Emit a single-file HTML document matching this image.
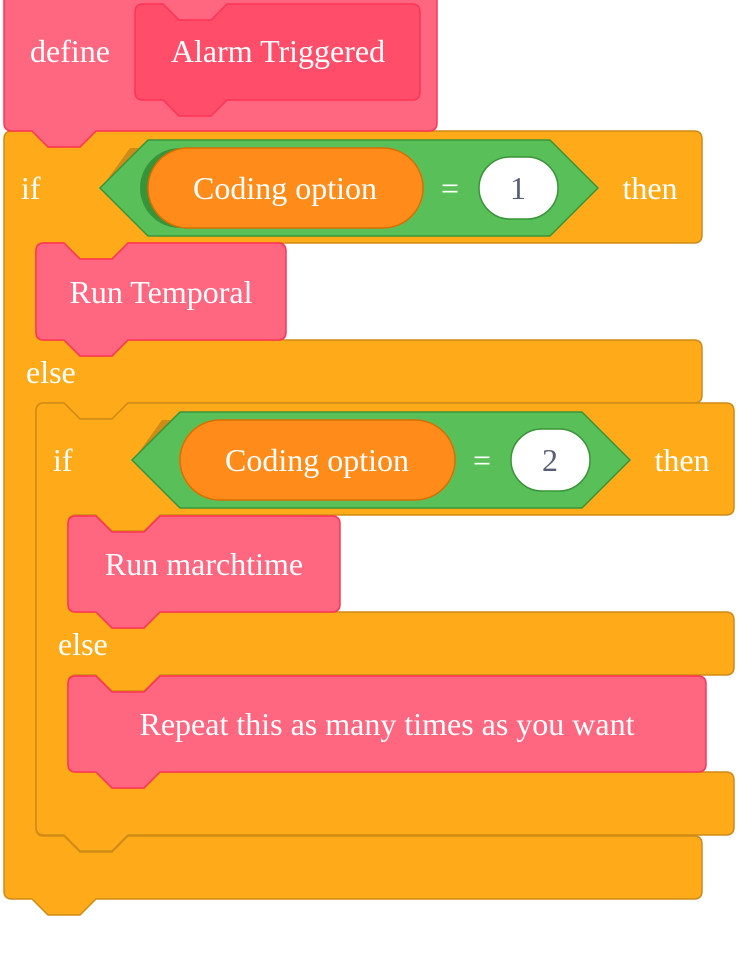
<!DOCTYPE html>
<html><head><meta charset="utf-8"><style>
html,body{margin:0;padding:0;background:#fff;}
svg{display:block}
text{font-family:"Liberation Serif",serif;font-size:32px;fill:#fff;}
</style></head><body>
<svg width="738" height="960" viewBox="0 0 738 960" xmlns="http://www.w3.org/2000/svg">
<path fill="#FFAB19" stroke="#CF8B17" stroke-width="1.5" d="M4,139 Q4,131 12,131 L32,131 L48,147 L80,147 L96,131 L694,131 Q702,131 702,139 L702,235 Q702,243 694,243 L128,243 L112,259 L80,259 L64,243 L44,243 Q36,243 36,251 L36,332 Q36,340 44,340 L64,340 L80,356 L112,356 L128,340 L694,340 Q702,340 702,348 L702,395 Q702,403 694,403 L128,403 L112,419 L80,419 L64,403 L44,403 Q36,403 36,411 L36,828 Q36,836 44,836 L64,836 L80,852 L112,852 L128,836 L694,836 Q702,836 702,844 L702,891 Q702,899 694,899 L96,899 L80,915 L48,915 L32,899 L12,899 Q4,899 4,891 Z"/>
<path fill="#FFAB19" stroke="#CF8B17" stroke-width="1.5" d="M36,411 Q36,403 44,403 L64,403 L80,419 L112,419 L128,403 L726,403 Q734,403 734,411 L734,507 Q734,515 726,515 L160,515 L144,531 L112,531 L96,515 L76,515 Q68,515 68,523 L68,604 Q68,612 76,612 L96,612 L112,628 L144,628 L160,612 L726,612 Q734,612 734,620 L734,667 Q734,675 726,675 L160,675 L144,691 L112,691 L96,675 L76,675 Q68,675 68,683 L68,764 Q68,772 76,772 L96,772 L112,788 L144,788 L160,772 L726,772 Q734,772 734,780 L734,827 Q734,835 726,835 L128,835 L112,851 L80,851 L64,835 L44,835 Q36,835 36,827 Z"/>
<path fill="#FF6680" stroke="#FF3355" stroke-width="1.5" d="M36,251 Q36,243 44,243 L64,243 L80,259 L112,259 L128,243 L278,243 Q286,243 286,251 L286,332 Q286,340 278,340 L128,340 L112,356 L80,356 L64,340 L44,340 Q36,340 36,332 Z"/>
<path fill="#FF6680" stroke="#FF3355" stroke-width="1.5" d="M68,524 Q68,516 76,516 L96,516 L112,532 L144,532 L160,516 L332,516 Q340,516 340,524 L340,604 Q340,612 332,612 L160,612 L144,628 L112,628 L96,612 L76,612 Q68,612 68,604 Z"/>
<path fill="#FF6680" stroke="#FF3355" stroke-width="1.5" d="M68,684 Q68,676 76,676 L96,676 L112,692 L144,692 L160,676 L698,676 Q706,676 706,684 L706,764 Q706,772 698,772 L160,772 L144,788 L112,788 L96,772 L76,772 Q68,772 68,764 Z"/>
<path fill="#FF6680" stroke="#FF3355" stroke-width="1.5" d="M4,-5 L437,-5 L437,123 Q437,131 429,131 L96,131 L80,147 L48,147 L32,131 L12,131 Q4,131 4,123 Z"/>
<path fill="#FF4D6A" stroke="#FF3355" stroke-width="1.5" d="M135,12 Q135,4 143,4 L163,4 L179,20 L211,20 L227,4 L412,4 Q420,4 420,12 L420,92 Q420,100 412,100 L227,100 L211,116 L179,116 L163,100 L143,100 Q135,100 135,92 Z"/>
<path fill="#CF8B17" d="M130,148 L140,148 L104,184 Z"/>
<path fill="#59C059" stroke="#389438" stroke-width="1.5" d="M100,188 L148,140 L550,140 L598,188 L550,236 L148,236 Z"/>
<rect x="140" y="148" width="275" height="80" rx="40" fill="#389438"/>
<rect x="148" y="148" width="275" height="80" rx="40" fill="#FF8C1A" stroke="#DB6E00" stroke-width="1.5"/>
<rect x="479" y="157" width="79" height="62" rx="31" fill="#fff" stroke="#389438" stroke-width="1.5"/>
<path fill="#CF8B17" d="M162,420 L172,420 L136,456 Z"/>
<path fill="#59C059" stroke="#389438" stroke-width="1.5" d="M132,460 L180,412 L582,412 L630,460 L582,508 L180,508 Z"/>
<rect x="180" y="420" width="275" height="80" rx="40" fill="#FF8C1A" stroke="#DB6E00" stroke-width="1.5"/>
<rect x="511" y="429" width="79" height="62" rx="31" fill="#fff" stroke="#389438" stroke-width="1.5"/>
<text x="70" y="62" text-anchor="middle">define</text>
<text x="278" y="62" text-anchor="middle">Alarm Triggered</text>
<text x="21" y="199">if</text>
<text x="285" y="199" text-anchor="middle">Coding option</text>
<text x="450" y="199" text-anchor="middle">=</text>
<text x="518" y="199" text-anchor="middle" style="fill:#575E75">1</text>
<text x="650" y="199" text-anchor="middle">then</text>
<text x="161" y="303" text-anchor="middle">Run Temporal</text>
<text x="26" y="383">else</text>
<text x="53" y="471">if</text>
<text x="317" y="471" text-anchor="middle">Coding option</text>
<text x="482" y="471" text-anchor="middle">=</text>
<text x="550" y="471" text-anchor="middle" style="fill:#575E75">2</text>
<text x="682" y="471" text-anchor="middle">then</text>
<text x="204" y="575" text-anchor="middle">Run marchtime</text>
<text x="58" y="655">else</text>
<text x="387" y="735" text-anchor="middle">Repeat this as many times as you want</text>
</svg>
</body></html>
